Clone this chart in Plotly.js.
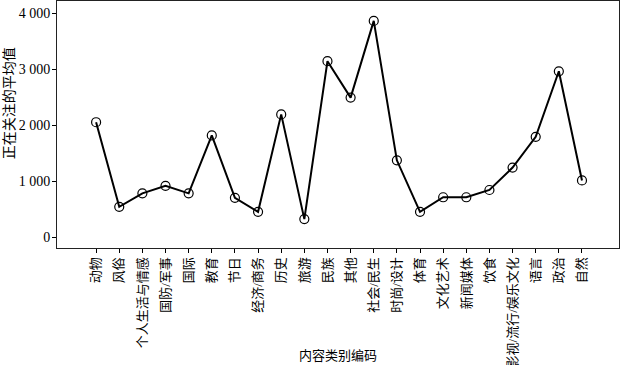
<!DOCTYPE html>
<html><head><meta charset="utf-8">
<script src="https://cdn.plot.ly/plotly-3.0.1.min.js"></script>
<style>html,body{margin:0;padding:0;background:#fff}#c{width:622px;height:365px}</style>
</head><body><div id="c"></div>
<script>
const categories = ["动物","风俗","个人生活与情感","国防/军事","国际","教育","节日","经济/商务","历史","旅游","民族","其他","社会/民生","时尚/设计","体育","文化艺术","新闻媒体","饮食","影视/流行/娱乐文化","语言","政治","自然"];
const values = [2050,540,780,915,780,1815,700,450,2190,320,3140,2490,3860,1370,450,710,710,840,1240,1790,2960,1010];
const yTicks = [0,1000,2000,3000,4000];
const yTickLabels = ["0","1 000","2 000","3 000","4 000"];

const xIdx = categories.map((c,i)=>i);
const serif = '"Liberation Serif", "Noto Sans CJK SC", serif';

Plotly.newPlot('c', [{
  x: xIdx, y: values, type: 'scatter', mode: 'lines+markers',
  line: {color: '#000', width: 2},
  marker: {symbol: 'circle-open', size: 9, color: '#000', line: {width: 1.2, color: '#000'}},
  cliponaxis: false
}], {
  width: 622, height: 365,
  margin: {l: 57, r: 3, t: 1, b: 117},
  paper_bgcolor: '#fff', plot_bgcolor: '#fff',
  showlegend: false,
  font: {family: serif, color: '#000', size: 13},
  xaxis: {
    range: [-1.69, 22.6], tickvals: xIdx, ticktext: categories,
    ticks: 'outside', ticklen: 4, tickcolor: '#000', tickwidth: 1,
    showline: true, linecolor: '#222', linewidth: 1, mirror: true,
    showgrid: false, zeroline: false, tickangle: -90, ticklabelstandoff: -1,
    tickfont: {family: serif, size: 13}
  },
  yaxis: {
    range: [-196, 4215], tickvals: yTicks, ticktext: yTickLabels,
    ticks: 'outside', ticklen: 4, tickcolor: '#000', tickwidth: 1,
    showline: true, linecolor: '#222', linewidth: 1, mirror: true,
    showgrid: false, zeroline: false, ticklabelstandoff: -1,
    tickfont: {family: serif, size: 14}
  },
  annotations: [
    {text: '内容类别编码', xref: 'paper', yref: 'paper', x: 0.5, y: -0.437, xanchor: 'center', yanchor: 'middle', showarrow: false, font: {family: serif, size: 13}},
    {text: '正在关注的平均值', xref: 'paper', yref: 'paper', x: -0.084, y: 0.585, xanchor: 'center', yanchor: 'middle', textangle: -90, showarrow: false, font: {family: serif, size: 14}}
  ]
}, {displayModeBar: false, staticPlot: true});
</script></body></html>
